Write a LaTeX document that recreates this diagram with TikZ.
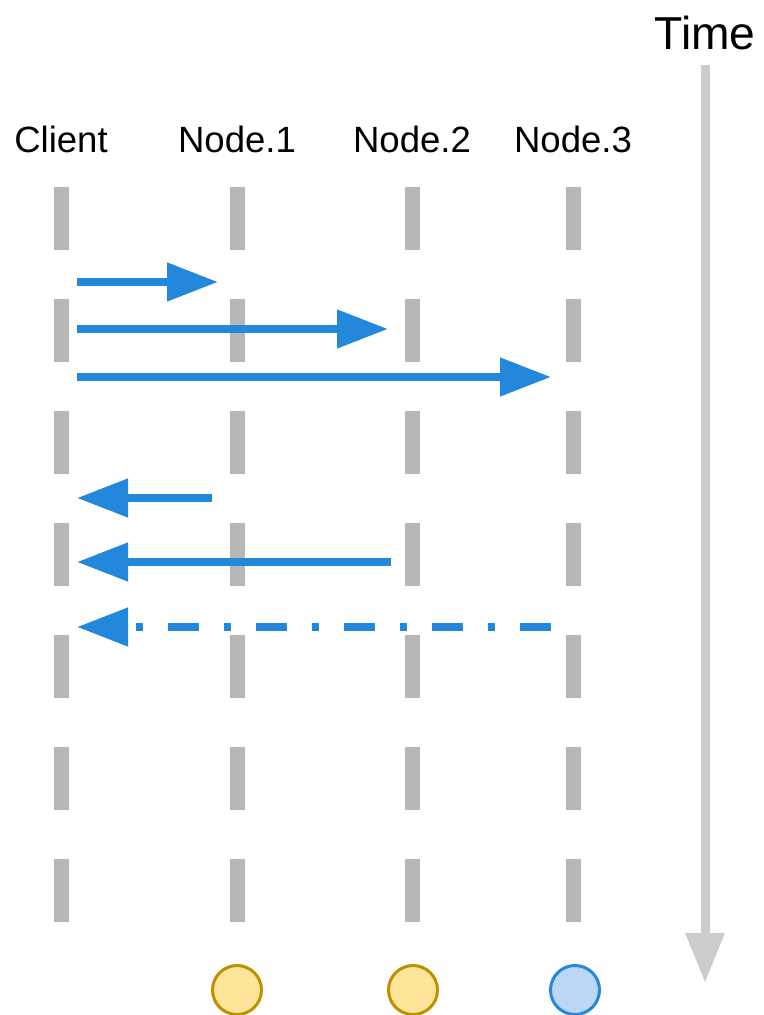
\documentclass[tikz,border=0pt]{standalone}
\usepackage{fontspec}
\setmainfont{Liberation Sans}
\usetikzlibrary{arrows.meta}
\definecolor{lifegray}{HTML}{B7B7B7}
\definecolor{timegray}{HTML}{CCCCCC}
\definecolor{msgblue}{HTML}{2388DB}
\definecolor{ackfill}{HTML}{FFE599}
\definecolor{ackline}{HTML}{BF9000}
\definecolor{pendfill}{HTML}{BBD7F5}
\tikzset{
	actor/.style={anchor=base, font=\fontsize{20.8}{25}\selectfont},
	lifeline/.style={lifegray, line width=0.3cm, dash pattern=on 1.26cm off 0.98cm},
	msg/.style={msgblue, line width=0.155cm, -{Triangle[length=1.02cm,width=0.74cm]}},
	lostmsg/.style={msg, dash pattern=on 0.63cm off 0.49cm on 0.15cm off 0.49cm},
	state/.style={circle, draw, line width=0.06cm, minimum size=0.98cm, inner sep=0pt},
}
\begin{document}
\begin{tikzpicture}
	\useasboundingbox (0,0) rectangle (15.28,-20.3);
	\node (client) at (1.22,-3.06) [actor] {Client};
	\node (node1) at (4.74,-3.06) [actor] {Node.1};
	\node (node2) at (8.24,-3.06) [actor] {Node.2};
	\node (node3) at (11.46,-3.06) [actor] {Node.3};
	% lifelines
	\coordinate (clienttop) at (1.22,-3.74);	\coordinate (clientend) at (1.22,-18.44);
	\coordinate (node1top) at (4.74,-3.74);		\coordinate (node1end) at (4.74,-18.44);
	\coordinate (node2top) at (8.24,-3.74);		\coordinate (node2end) at (8.24,-18.44);
	\coordinate (node3top) at (11.46,-3.74);	\coordinate (node3end) at (11.46,-18.44);
	\draw[lifeline] (clienttop) -- (clientend);
	\draw[lifeline] (node1top) -- (node1end);
	\draw[lifeline] (node2top) -- (node2end);
	\draw[lifeline] (node3top) -- (node3end);
	% requests
	\coordinate (req1) at (1.54,-5.64);		\coordinate (in1) at (4.36,-5.64);
	\coordinate (req2) at (1.54,-6.58);		\coordinate (in2) at (7.76,-6.58);
	\coordinate (req3) at (1.54,-7.54);		\coordinate (in3) at (11.02,-7.54);
	\draw[msg] (req1) -- (in1);
	\draw[msg] (req2) -- (in2);
	\draw[msg] (req3) -- (in3);
	% replies
	\coordinate (out1) at (4.24,-9.96);		\coordinate (rep1) at (1.54,-9.96);
	\coordinate (out2) at (7.82,-11.24);	\coordinate (rep2) at (1.54,-11.24);
	\coordinate (out3) at (11.02,-12.54);	\coordinate (rep3) at (1.54,-12.54);
	\draw[msg] (out1) -- (rep1);
	\draw[msg] (out2) -- (rep2);
	\draw[lostmsg] (out3) -- (rep3);
	% states
	\node (state1) at (4.74,-19.8) [state, draw=ackline, fill=ackfill] {};
	\node (state2) at (8.26,-19.8) [state, draw=ackline, fill=ackfill] {};
	\node (state3) at (11.5,-19.8) [state, draw=msgblue, fill=pendfill] {};
	% time axis
	\node (time) at (14.1,-1.0) [anchor=base, font=\fontsize{26.3}{31}\selectfont] {Time};
	\coordinate (timetop) at (14.1,-1.3);
	\coordinate (timeend) at (14.1,-19.66);
	\draw[timegray, line width=0.18cm, -{Triangle[length=1.0cm,width=0.74cm]}] (timetop) -- (timeend);
\end{tikzpicture}
\end{document}
